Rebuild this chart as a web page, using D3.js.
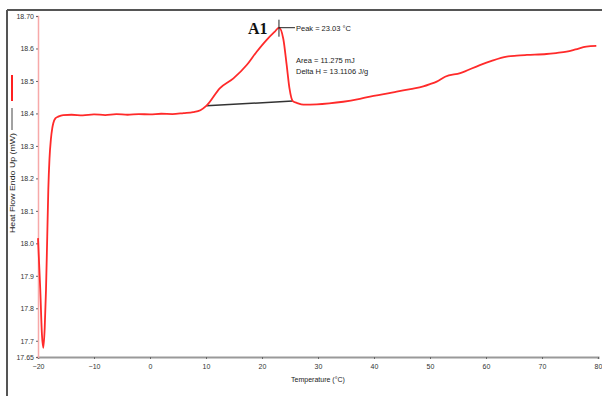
<!DOCTYPE html>
<html><head><meta charset="utf-8">
<script src="https://cdn.jsdelivr.net/npm/d3@7"></script>
<style>body{margin:0;background:#fff}svg{display:block}</style>
</head><body>
<svg id="c" width="602" height="396"></svg>
<script>
const temperature = [-20,-19.6,-19.3,-19.05,-18.8,-18.57,-18.35,-18.16,-17.95,-17.7,-17.45,-17.27,-16.9,-16.4,-15.5,-14,-12,-10,-8,-6,-4,-2,0,2,4,6,7.7,9,10.1,12.5,14.9,17.27,19.05,20.8,22.3,23.03,23.8,24.4,24.9,25.5,26.3,27.4,29.8,32,34.5,37,39.3,42,44.05,46.5,48.8,50,51.2,52.7,55.4,58.9,61,63.7,65.5,67.3,70.8,72.5,74.4,76,77.9,79.7];
const heatFlow    = [18.016,17.86,17.72,17.678,17.74,17.857,18.02,18.165,18.26,18.32,18.355,18.37,18.385,18.39,18.395,18.396,18.394,18.397,18.395,18.398,18.396,18.398,18.397,18.399,18.398,18.401,18.404,18.41,18.424,18.478,18.508,18.549,18.590,18.626,18.652,18.664,18.63,18.55,18.478,18.438,18.432,18.427,18.428,18.431,18.436,18.443,18.452,18.460,18.467,18.475,18.483,18.490,18.498,18.513,18.524,18.549,18.562,18.575,18.578,18.580,18.583,18.586,18.590,18.597,18.606,18.608];
const baselineT = [10.1, 25.5];
const baselineV = [18.424, 18.438];
const xTicks = [-20,-10,0,10,20,30,40,50,60,70,80];
const yTicks = [18.70,18.6,18.5,18.4,18.3,18.2,18.1,18.0,17.9,17.8,17.7,17.65];
const yTickLabels = ["18.70","18.6","18.5","18.4","18.3","18.2","18.1","18.0","17.9","17.8","17.7","17.65"];
const peakT = 23.03, peakV = 18.664;
const peakLabel = "Peak = 23.03 °C";
const areaLabel = "Area = 11.275 mJ";
const deltaLabel = "Delta H = 13.1106 J/g";
const xTitle = "Temperature (°C)";
const yTitle = "Heat Flow Endo Up (mW)";

const svg = d3.select("#c");
const x = d3.scaleLinear().domain([-20,80]).range([38,598]);
const y = d3.scaleLinear().domain([17.65,18.70]).range([357,16]);
const sans = "Arial, 'Liberation Sans', sans-serif";

// frame
svg.append("line").attr("x1",7).attr("x2",7).attr("y1",10).attr("y2",396).attr("stroke","#555").attr("stroke-width",2);
svg.append("line").attr("x1",7).attr("x2",602).attr("y1",10).attr("y2",10).attr("stroke","#555").attr("stroke-width",2);

// x axis
const xa = svg.append("g").attr("transform",`translate(0,${y(17.65)})`)
  .call(d3.axisBottom(x).tickValues(xTicks).tickSize(2).tickPadding(5).tickFormat(d3.format("d")));
xa.select(".domain").attr("stroke","#999").attr("stroke-width",2);
xa.selectAll(".tick line").attr("stroke","#666");
xa.selectAll("text").attr("font-family",sans).attr("font-size",7).attr("fill","#333");

// y axis
const ya = svg.append("g").attr("transform",`translate(${x(-20)},0)`)
  .call(d3.axisLeft(y).tickValues(yTicks).tickSize(2).tickPadding(2).tickFormat((d,i)=>yTickLabels[i]));
ya.select(".domain").attr("stroke","#f7a9a9").attr("stroke-width",1.5);
ya.selectAll(".tick line").attr("stroke","#666");
ya.selectAll("text").attr("font-family",sans).attr("font-size",7).attr("fill","#333");

// titles
svg.append("text").attr("x",318).attr("y",382).attr("text-anchor","middle")
  .attr("font-family",sans).attr("font-size",7).attr("fill","#222").text(xTitle);
svg.append("text").attr("transform","translate(14.5,183) rotate(-90)").attr("text-anchor","middle")
  .attr("font-family",sans).attr("font-size",7.5).attr("fill","#222")
  .attr("textLength",100).attr("lengthAdjust","spacingAndGlyphs").text(yTitle);
svg.append("line").attr("x1",12).attr("x2",12).attr("y1",75).attr("y2",101).attr("stroke","#ff2020").attr("stroke-width",2);
svg.append("line").attr("x1",12).attr("x2",12).attr("y1",108).attr("y2",130).attr("stroke","#444").attr("stroke-width",1);

// baseline
svg.append("path").datum(baselineT.map((t,i)=>[t,baselineV[i]]))
  .attr("d",d3.line().x(d=>x(d[0])).y(d=>y(d[1])))
  .attr("fill","none").attr("stroke","#333").attr("stroke-width",1.5);

// curve
svg.append("path").datum(temperature.map((t,i)=>[t,heatFlow[i]]))
  .attr("d",d3.line().x(d=>x(d[0])).y(d=>y(d[1])).curve(d3.curveMonotoneX))
  .attr("fill","none").attr("stroke","#ff2a2a").attr("stroke-width",1.8).attr("stroke-linejoin","round");

// peak marker
const px = x(peakT), py = y(peakV);
svg.append("line").attr("x1",px).attr("x2",px).attr("y1",py-8).attr("y2",py+9).attr("stroke","#222").attr("stroke-width",1);
svg.append("line").attr("x1",px).attr("x2",px+16).attr("y1",py).attr("y2",py).attr("stroke","#222").attr("stroke-width",1);
svg.append("text").attr("x",px+17).attr("y",py+3).attr("font-family",sans).attr("font-size",7.5).attr("fill","#222").text(peakLabel);
svg.append("text").attr("x",296).attr("y",63).attr("font-family",sans).attr("font-size",7.5).attr("fill","#222").text(areaLabel);
svg.append("text").attr("x",296).attr("y",74).attr("font-family",sans).attr("font-size",7.5).attr("fill","#222").text(deltaLabel);
svg.append("text").attr("x",248).attr("y",34).attr("font-family","'Liberation Serif', 'Times New Roman', serif").attr("font-weight","bold").attr("font-size",16).attr("fill","#111").text("A1");
</script>
</body></html>
